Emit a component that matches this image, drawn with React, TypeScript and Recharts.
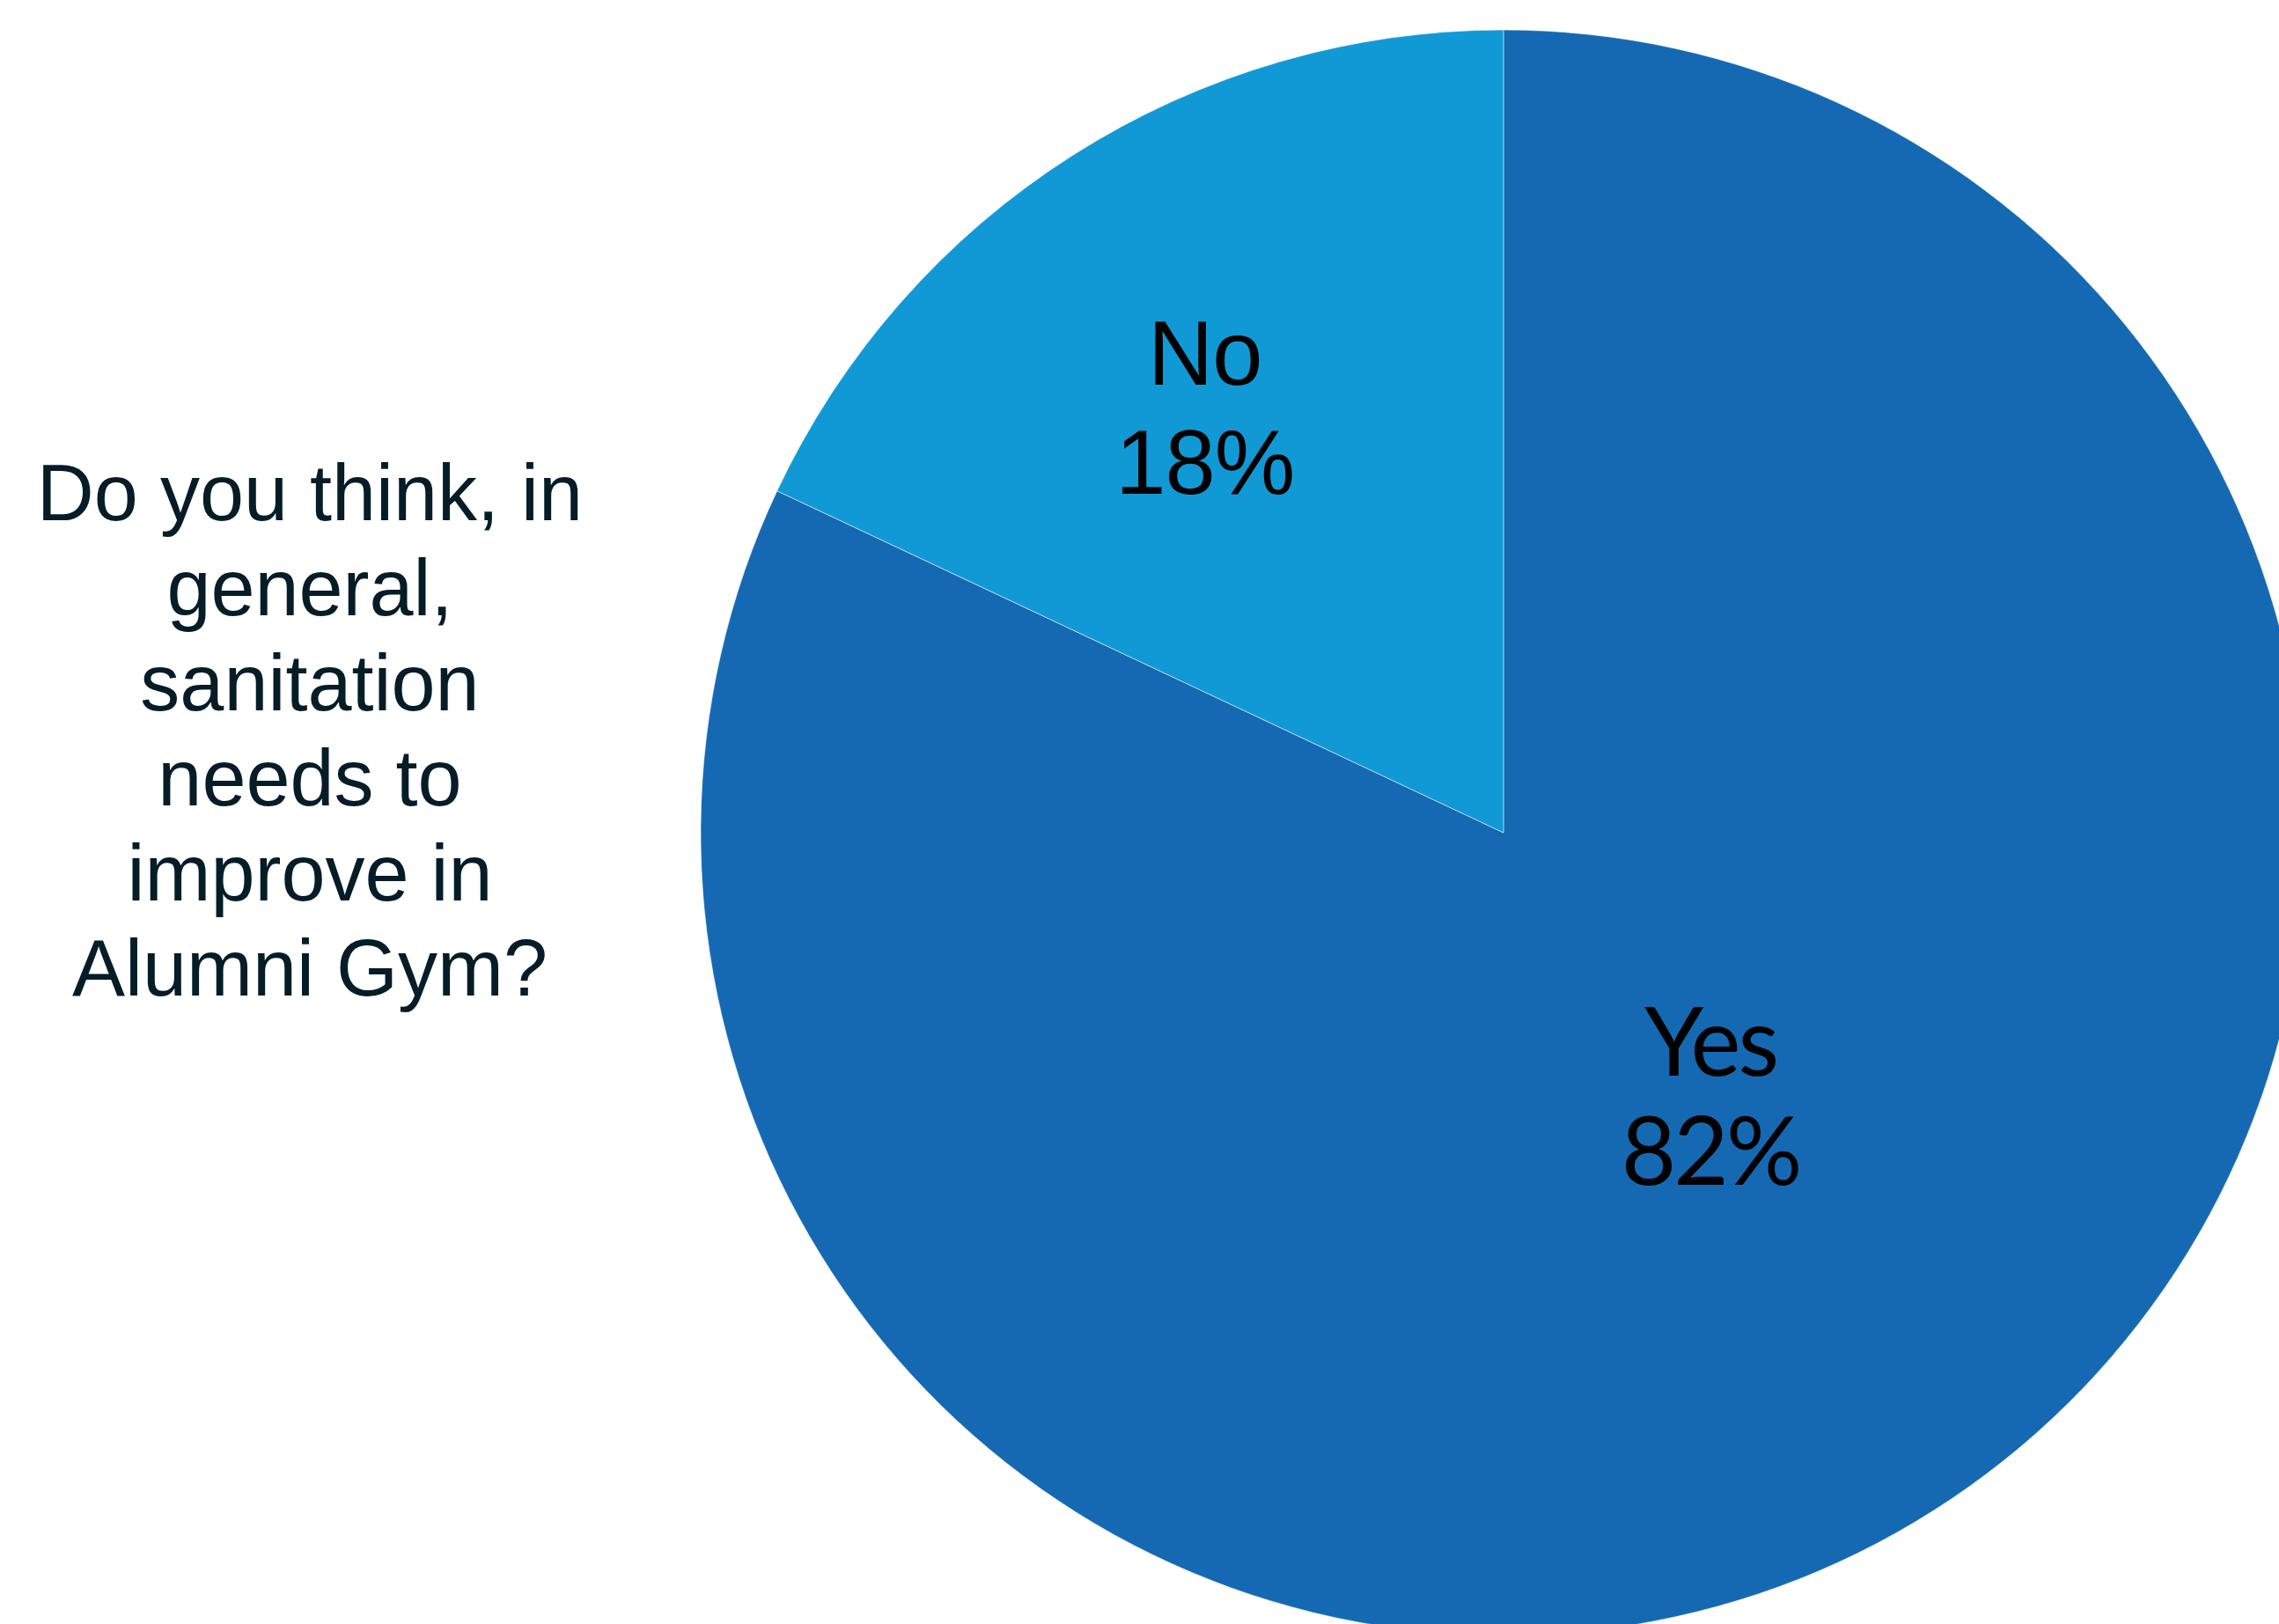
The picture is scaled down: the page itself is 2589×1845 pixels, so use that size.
import { PieChart, Pie, Cell } from 'recharts';

const categories = ['Yes', 'No'];
const shares = [82, 18];
const sliceColors = ['#1569B3', '#1199D6'];
const titleLines = ['Do you think, in', 'general,', 'sanitation', 'needs to', 'improve in', 'Alumni Gym?'];

const data = categories.map((name, i) => ({ name, value: shares[i] }));

const RADIAN = Math.PI / 180;

// label placement inside each slice: distance as share of radius + small angle nudge
const labelRatio = [0.416, 0.651];
const labelAngleShift = [5.9, 2.45];
const labelFont = ['Lato, "Open Sans", sans-serif', '"Liberation Sans", Arial, sans-serif'];
const labelSize = [108, 103];
const labelSpacing = [-3, -1];
const LINE_GAP = 124;

// eslint-disable-next-line @typescript-eslint/no-explicit-any
function renderLabel(props: any) {
  const { cx, cy, midAngle, outerRadius, index, name, value } = props;
  const r = outerRadius * labelRatio[index];
  const a = (midAngle + labelAngleShift[index]) * RADIAN;
  const x = cx + r * Math.cos(-a);
  const y = cy + r * Math.sin(-a);
  return (
    <text
      x={x}
      y={y}
      textAnchor="middle"
      fill="#000"
      fontFamily={labelFont[index]}
      fontSize={labelSize[index]}
      letterSpacing={labelSpacing[index]}
    >
      <tspan x={x} dy={-22}>{name}</tspan>
      <tspan x={x} dy={LINE_GAP}>{`${value}%`}</tspan>
    </text>
  );
}

export default function App() {
  return (
    <div style={{ position: 'absolute', left: 0, top: 0, width: 2589, height: 1845, background: '#fff', overflow: 'hidden' }}>
      <PieChart width={2589} height={1845} margin={{ top: 0, right: 0, bottom: 0, left: 0 }}>
        <Pie
          data={data}
          dataKey="value"
          nameKey="name"
          cx={1708}
          cy={946}
          innerRadius={0}
          outerRadius={912}
          startAngle={90}
          endAngle={-270}
          stroke="#ffffff"
          strokeOpacity={0.5}
          strokeWidth={1}
          label={renderLabel}
          labelLine={false}
          isAnimationActive={false}
        >
          {data.map((_, i) => (
            <Cell key={i} fill={sliceColors[i]} />
          ))}
        </Pie>
      </PieChart>
      <div
        style={{
          position: 'absolute',
          left: 2,
          top: 506,
          width: 700,
          textAlign: 'center',
          fontFamily: '"Liberation Sans", Arial, sans-serif',
          fontSize: 90,
          lineHeight: '108px',
          color: '#061C26',
        }}
      >
        {titleLines.map((l, i) => (
          <div key={i}>{l}</div>
        ))}
      </div>
    </div>
  );
}
